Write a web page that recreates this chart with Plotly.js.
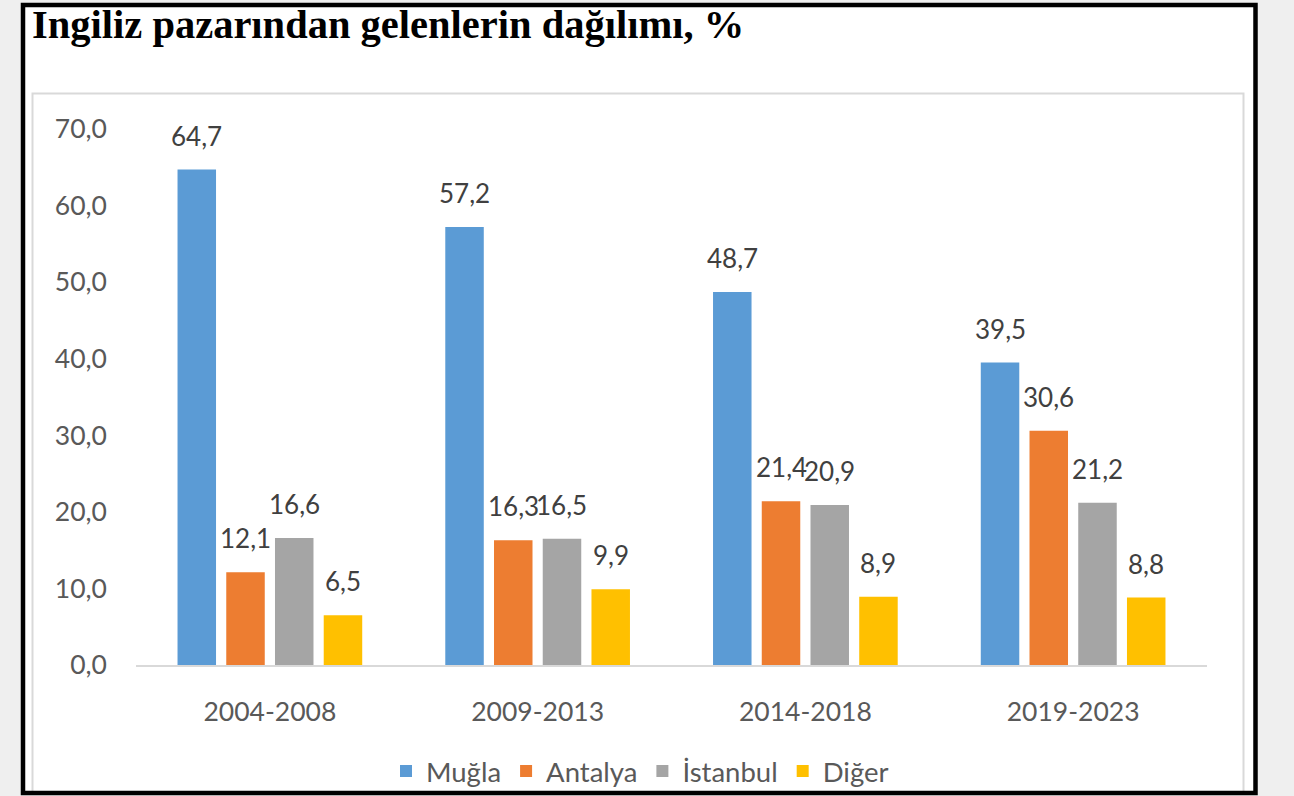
<!DOCTYPE html>
<html>
<head>
<meta charset="utf-8">
<script src="https://cdn.plot.ly/plotly-3.0.1.min.js"></script>
<style>
html,body{margin:0;padding:0;background:#efefef;}
#chart{width:1294px;height:796px;}
</style>
</head>
<body>
<div id="chart"></div>
<script>
var categories = ["2004-2008", "2009-2013", "2014-2018", "2019-2023"];
var seriesNames = ["Muğla", "Antalya", "İstanbul", "Diğer"];
var mugla    = [64.7, 57.2, 48.7, 39.5];
var antalya  = [12.1, 16.3, 21.4, 30.6];
var istanbul = [16.6, 16.5, 20.9, 21.2];
var diger    = [6.5, 9.9, 8.9, 8.8];
var yTicks = [0, 10, 20, 30, 40, 50, 60, 70];
var titleText = "Ingiliz pazarından gelenlerin dağılımı, %";

var colors = ["#5B9BD5", "#ED7D31", "#A5A5A5", "#FFC000"];
var allSeries = [mugla, antalya, istanbul, diger];

// plot-area pixel geometry
var W = 1294, H = 796;
var L = 136, R = 1207, T = 129, B = 665;
var BARGAP = 0.272, GROUPGAP = 0.21;
function xp(px){ return (px - L) / (R - L); }
function yp(py){ return (B - py) / (B - T); }

var traces = allSeries.map(function(vals, i){
  return {
    type: "bar",
    name: seriesNames[i],
    x: categories,
    y: vals,
    marker: {color: colors[i]},
    hoverinfo: "skip"
  };
});

var slot = (R - L) / categories.length * (1 - BARGAP) / allSeries.length;
var annotations = [];
allSeries.forEach(function(vals, i){
  vals.forEach(function(v, j){
    annotations.push({
      x: categories[j], y: v, xref: "x", yref: "y",
      text: v.toFixed(1).replace(".", ","),
      showarrow: false,
      xshift: (i - 1.5) * slot,
      yshift: 34,
      yanchor: "middle",
      font: {family: "Lato, 'Open Sans', sans-serif", size: 26, color: "#404040"}
    });
  });
});

var shapes = [
  {type: "rect", xref: "paper", yref: "paper", layer: "below",
   x0: xp(23), x1: xp(1255.5), y0: yp(5), y1: yp(793),
   fillcolor: "#ffffff", line: {width: 0}},
  {type: "rect", xref: "paper", yref: "paper", layer: "below",
   x0: xp(32.5), x1: xp(1243.5), y0: yp(93.5), y1: yp(792),
   line: {color: "#d9d9d9", width: 2}},
  {type: "rect", xref: "paper", yref: "paper", layer: "above",
   x0: xp(23), x1: xp(1255.5), y0: yp(5), y1: yp(793),
   line: {color: "#000000", width: 4.5}}
];

var layout = {
  width: W, height: H,
  margin: {l: L, r: W - R, t: T, b: H - B, pad: 0, autoexpand: false},
  paper_bgcolor: "#efefef",
  plot_bgcolor: "rgba(0,0,0,0)",
  separators: ", ",
  barmode: "group",
  bargap: BARGAP,
  bargroupgap: GROUPGAP,
  showlegend: true,
  title: {
    text: titleText,
    xref: "container", yref: "container",
    x: 32 / W, xanchor: "left",
    y: 1 - 24 / H, yanchor: "middle",
    font: {family: "'Liberation Serif', 'Times New Roman', serif", size: 40.5, color: "#000000", weight: "bold"}
  },
  xaxis: {
    type: "category",
    showline: true, linecolor: "#d9d9d9", linewidth: 2,
    showgrid: false, zeroline: false,
    ticks: "", ticklabelstandoff: 22,
    tickfont: {family: "Lato, 'Open Sans', sans-serif", size: 26.5, color: "#595959"},
    automargin: false,
    fixedrange: true
  },
  yaxis: {
    range: [0, 70],
    tickvals: yTicks,
    tickformat: ".1f",
    showgrid: false, zeroline: false, showline: false,
    ticks: "", ticklabelstandoff: 28,
    tickfont: {family: "Lato, 'Open Sans', sans-serif", size: 26.5, color: "#595959"},
    automargin: false,
    fixedrange: true
  },
  legend: {
    orientation: "h",
    x: xp(640), xanchor: "center",
    y: yp(771), yanchor: "middle",
    font: {family: "Lato, 'Open Sans', sans-serif", size: 27.5, color: "#595959"},
    bgcolor: "rgba(0,0,0,0)",
    itemclick: false, itemdoubleclick: false
  },
  annotations: annotations,
  shapes: shapes
};

Plotly.newPlot("chart", traces, layout, {displayModeBar: false, staticPlot: true});
</script>
</body>
</html>
